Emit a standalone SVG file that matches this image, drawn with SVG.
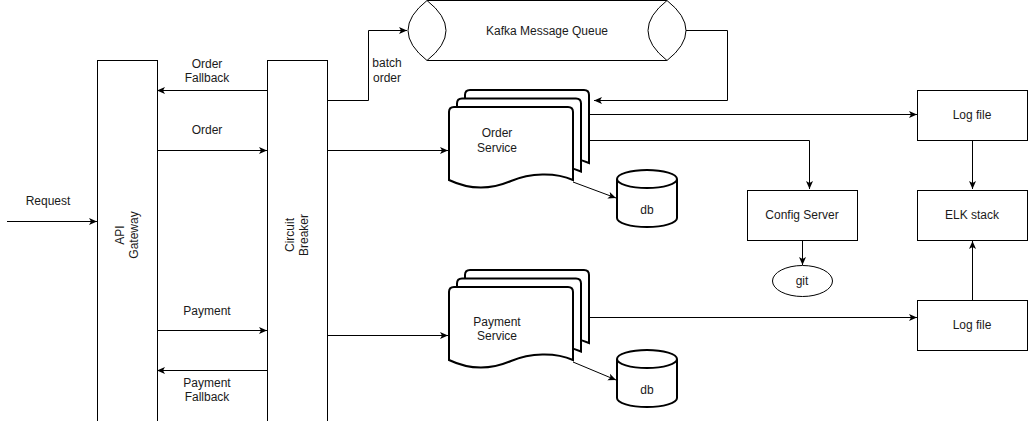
<svg xmlns="http://www.w3.org/2000/svg" width="1028" height="421" viewBox="0 0 1028 421">
<style>
text{font-family:"Liberation Sans",Arial,sans-serif;font-size:12px;fill:#1a1a1a;text-anchor:middle}
.box{fill:#fff;stroke:#000;stroke-width:1}
.thick{fill:#fff;stroke:#000;stroke-width:2}
.conn{fill:none;stroke:#000;stroke-width:1;marker-end:url(#arr)}
.plain{fill:none;stroke:#000;stroke-width:1}
</style>
<defs>
<marker id="arr" markerUnits="userSpaceOnUse" markerWidth="9" markerHeight="9" refX="8" refY="4" orient="auto">
<path d="M0,0.5 L8,4 L0,7.5 L2,4 Z" fill="#000"/>
</marker>
<path id="doc" d="M449,180 V112 Q449,107 454,107 H568 Q573,107 573,112 V180 C555,172 530,173 511,181 C490,190 470,190 449,180 Z"/>
</defs>
<g id="connectors">
<path class="conn" d="M7,221.5 H97"/>
<path class="conn" d="M267,90.5 H157"/>
<path class="conn" d="M157,150.5 H267"/>
<path class="conn" d="M157,330.5 H267"/>
<path class="conn" d="M267,370.5 H157"/>
<path class="conn" d="M327,100.5 H368.5 V30.5 H407"/>
<path class="conn" d="M327,150.5 H448"/>
<path class="conn" d="M327,335.5 H448"/>
<path class="conn" d="M667,30.5 H727.5 V100.5 H594"/>
<path class="conn" d="M589,114.5 H917"/>
<path class="conn" d="M589,140.5 H809.5 V189"/>
<path class="conn" d="M573,182 L616,198"/>
<path class="conn" d="M573,362 L616,380"/>
<path class="conn" d="M589,317.5 H917"/>
<path class="conn" d="M972.5,140 V189"/>
<path class="conn" d="M972.5,300 V241"/>
<path class="conn" d="M802.5,240 V265"/>
</g>
<g id="edge-labels">
<text x="207" y="68">Order</text>
<text x="207" y="82">Fallback</text>
<text x="207" y="134">Order</text>
<text x="48" y="205">Request</text>
<text x="207" y="315">Payment</text>
<text x="207" y="387">Payment</text>
<text x="207" y="401">Fallback</text>
<text x="387" y="67">batch</text>
<text x="387" y="82">order</text>
</g>
<g id="api-gateway">
<rect class="box" x="97.5" y="60.5" width="60" height="370"/>
<g transform="rotate(-90 127 235)">
<text x="127" y="232">API</text>
<text x="127" y="246">Gateway</text>
</g>
</g>
<g id="circuit-breaker">
<rect class="box" x="267.5" y="60.5" width="60" height="370"/>
<g transform="rotate(-90 297 235)">
<text x="297" y="232">Circuit</text>
<text x="297" y="246">Breaker</text>
</g>
</g>
<g id="kafka">
<path class="box" d="M427,0.5 H667 V60.5 H427 Z" style="stroke:none"/>
<path class="plain" d="M427,0.5 H667 M427,60.5 H667"/>
<path class="box" d="M427,0.5 Q389,30.5 427,60.5 Q465,30.5 427,0.5 Z"/>
<path class="box" d="M667,0.5 Q629,30.5 667,60.5 Q705,30.5 667,0.5 Z"/>
<text x="547" y="35">Kafka Message Queue</text>
</g>
<g id="order-service">
<use href="#doc" class="thick" transform="translate(16,-17)"/>
<use href="#doc" class="thick" transform="translate(8,-8.5)"/>
<use href="#doc" class="thick"/>
<text x="497" y="137">Order</text>
<text x="497" y="152">Service</text>
</g>
<g id="payment-service">
<use href="#doc" class="thick" transform="translate(16,163)"/>
<use href="#doc" class="thick" transform="translate(8,171.5)"/>
<use href="#doc" class="thick" transform="translate(0,180)"/>
<text x="497" y="326">Payment</text>
<text x="497" y="340">Service</text>
</g>
<g id="order-db">
<path class="thick" d="M617,179 A30,9 0 0 1 677,179 V218 A30,9 0 0 1 617,218 Z"/>
<path class="thick" style="fill:none" d="M617,179 A30,9 0 0 0 677,179"/>
<text x="647" y="214">db</text>
</g>
<g id="payment-db">
<path class="thick" d="M617,359 A30,9 0 0 1 677,359 V398 A30,9 0 0 1 617,398 Z"/>
<path class="thick" style="fill:none" d="M617,359 A30,9 0 0 0 677,359"/>
<text x="647" y="394">db</text>
</g>
<g id="log-file-1">
<rect class="box" x="917.5" y="90.5" width="110" height="50"/>
<text x="972" y="119">Log file</text>
</g>
<g id="elk-stack">
<rect class="box" x="917.5" y="190.5" width="110" height="50"/>
<text x="972" y="219">ELK stack</text>
</g>
<g id="log-file-2">
<rect class="box" x="917.5" y="300.5" width="110" height="50"/>
<text x="972" y="329">Log file</text>
</g>
<g id="config-server">
<rect class="box" x="747.5" y="190.5" width="110" height="50"/>
<text x="802" y="219">Config Server</text>
</g>
<g id="git">
<ellipse class="box" cx="802.5" cy="281" rx="30" ry="15.5"/>
<text x="802" y="285">git</text>
</g>
</svg>
